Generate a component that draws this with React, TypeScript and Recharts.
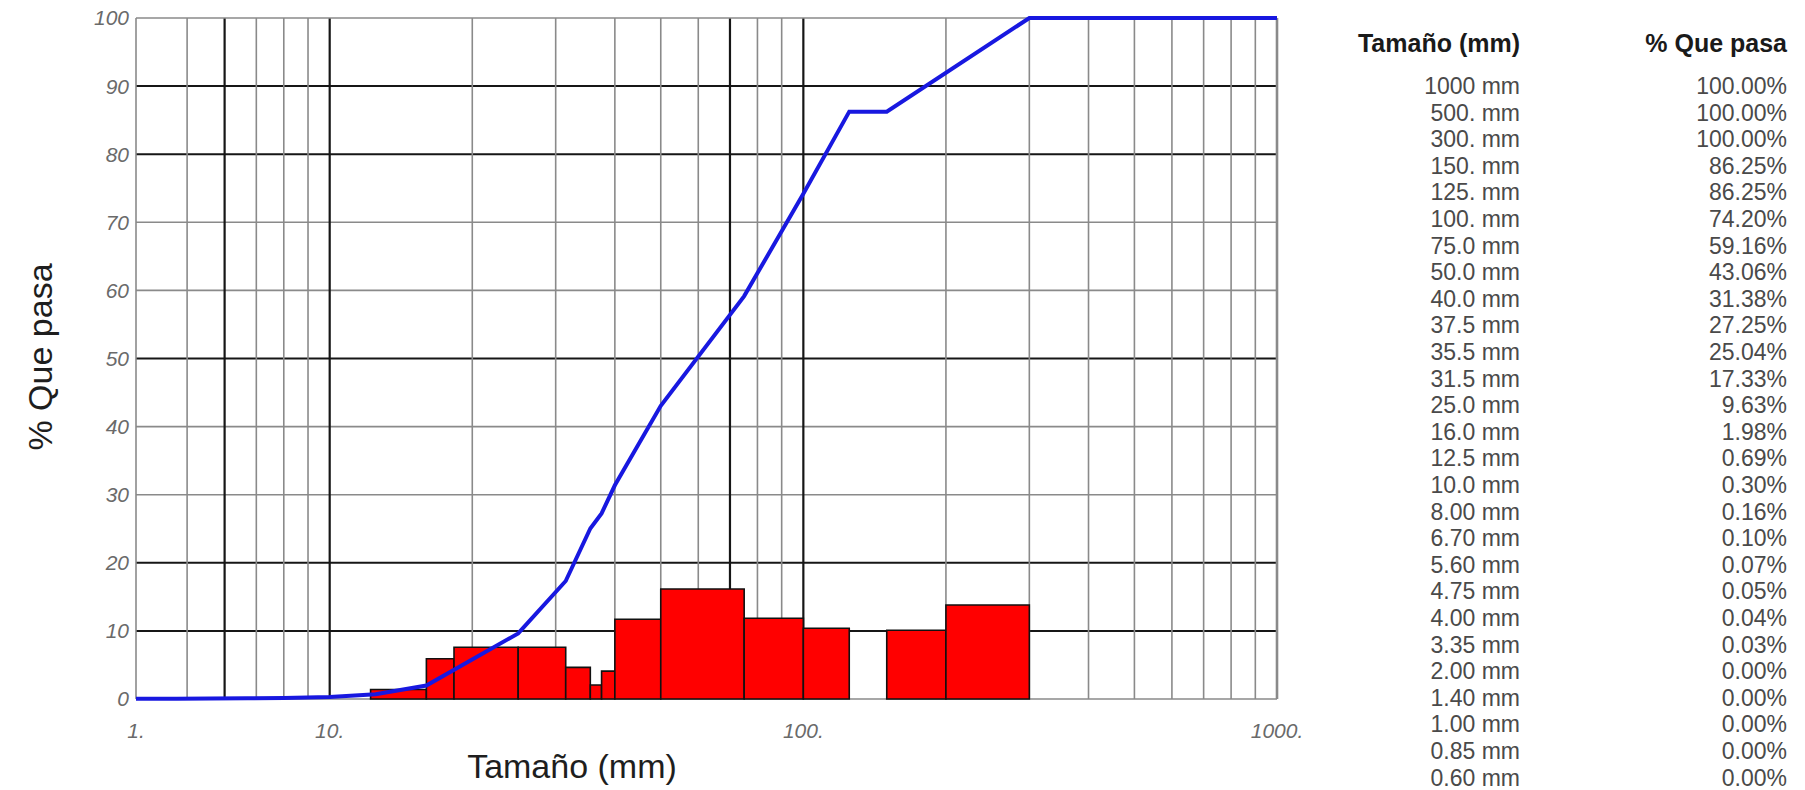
import React from "react";
import {
  ComposedChart,
  Line,
  XAxis,
  YAxis,
  ReferenceLine,
  ReferenceArea,
} from "recharts";

// ---- data ----
const SIZES = [1000, 500, 300, 150, 125, 100, 75, 50, 40, 37.5, 35.5, 31.5, 25, 16, 12.5, 10, 8, 6.7, 5.6, 4.75, 4, 3.35, 2, 1.4, 1, 0.85, 0.6];
const SIZE_LABELS = [
  "1000 mm", "500. mm", "300. mm", "150. mm", "125. mm", "100. mm", "75.0 mm", "50.0 mm",
  "40.0 mm", "37.5 mm", "35.5 mm", "31.5 mm", "25.0 mm", "16.0 mm", "12.5 mm", "10.0 mm",
  "8.00 mm", "6.70 mm", "5.60 mm", "4.75 mm", "4.00 mm", "3.35 mm", "2.00 mm", "1.40 mm",
  "1.00 mm", "0.85 mm", "0.60 mm",
];
const PASSING = [100, 100, 100, 86.25, 86.25, 74.2, 59.16, 43.06, 31.38, 27.25, 25.04, 17.33, 9.63, 1.98, 0.69, 0.3, 0.16, 0.1, 0.07, 0.05, 0.04, 0.03, 0, 0, 0, 0, 0];

// histogram bins (retained)
const BIN_FROM = [12.2, 16, 18.3, 25, 31.5, 35.5, 37.5, 40, 50, 75, 100, 150, 200];
const BIN_TO = [16, 18.3, 25, 31.5, 35.5, 37.5, 40, 50, 75, 100, 125, 200, 300];
const BIN_HEIGHT = [1.4, 5.9, 7.6, 7.6, 4.65, 2.05, 4.1, 11.7, 16.15, 11.85, 10.4, 10.1, 13.8];

// axes
const X_MIN = 3.9;
const X_MAX = 1000;
const X_TICKS = [X_MIN, 10, 100, 1000];
const X_TICK_LABELS = ["1.", "10.", "100.", "1000."];
const Y_TICKS = [0, 10, 20, 30, 40, 50, 60, 70, 80, 90, 100];
const GRID_X = [5, 6, 7, 8, 9, 10, 20, 30, 40, 50, 60, 70, 80, 90, 100, 200, 300, 400, 500, 600, 700, 800, 900];
const MAJOR_X = [6, 10, 70, 100];
const GRID_Y = [10, 20, 30, 40, 50, 60, 70, 80, 90];
const MAJOR_Y = [10, 20, 50, 80, 90];

const TABLE_HEAD_SIZE = "Tamaño (mm)";
const TABLE_HEAD_PCT = "% Que pasa";

const lineData = SIZES.map((s, i) => ({ size: s, pct: PASSING[i] })).reverse();

const FONT = "'Liberation Sans', Arial, sans-serif";
const LIGHT = "#8a8a8a";
const DARK = "#161616";

export default function App() {
  const gridProps: any = { zIndex: -100 };
  const areaProps: any = { zIndex: 100 };
  const lineProps: any = { zIndex: 400 };
  return (
    <div style={{ position: "absolute", left: 0, top: 0, width: 1805, height: 790, background: "#fff" }}>
      <ComposedChart
        width={1805}
        height={790}
        data={lineData}
        margin={{ top: 18, right: 528, bottom: 0, left: 0 }}
        style={{ fontFamily: FONT }}
      >
        <XAxis
          dataKey="size"
          type="number"
          scale="log"
          domain={[X_MIN, X_MAX]}
          allowDataOverflow
          ticks={X_TICKS}
          interval={0}
          tickFormatter={(v: number, i: number) => X_TICK_LABELS[i]}
          axisLine={false}
          tickLine={false}
          tickSize={0}
          tickMargin={24}
          height={91}
          tick={{ fill: "#6a6a6a", fontSize: 21, fontStyle: "italic", fontFamily: FONT }}
          label={{
            content: () => (
              <text x={572} y={766} textAnchor="middle" dominantBaseline="central" fontSize={34} fill="#1e1e1e" fontFamily={FONT}>
                Tamaño (mm)
              </text>
            ),
          }}
        />
        <YAxis
          type="number"
          domain={[0, 100]}
          ticks={Y_TICKS}
          interval={0}
          axisLine={false}
          tickLine={false}
          tickSize={0}
          tickMargin={7}
          width={136}
          tick={{ fill: "#6a6a6a", fontSize: 21, fontStyle: "italic", fontFamily: FONT }}
          label={{
            content: () => (
              <text x={40} y={357} transform="rotate(-90 40 357)" textAnchor="middle" dominantBaseline="central" fontSize={34} fill="#1e1e1e" fontFamily={FONT}>
                % Que pasa
              </text>
            ),
          }}
        />
        {GRID_Y.map((v) => (
          <ReferenceLine key={"gy" + v} {...gridProps} y={v} stroke={MAJOR_Y.includes(v) ? DARK : LIGHT} strokeWidth={MAJOR_Y.includes(v) ? 2 : 1.6} />
        ))}
        {GRID_X.map((v) => (
          <ReferenceLine key={"gx" + v} {...gridProps} x={v} stroke={MAJOR_X.includes(v) ? DARK : LIGHT} strokeWidth={MAJOR_X.includes(v) ? 2.2 : 1.6} />
        ))}
        <ReferenceLine {...gridProps} x={X_MIN} stroke={LIGHT} strokeWidth={1.6} />
        <ReferenceLine {...gridProps} x={X_MAX} stroke={LIGHT} strokeWidth={2.6} />
        <ReferenceLine {...gridProps} y={0} stroke={LIGHT} strokeWidth={1.6} />
        <ReferenceLine {...gridProps} y={100} stroke={LIGHT} strokeWidth={1.6} />
        {BIN_FROM.map((lo, i) => (
          <ReferenceArea
            key={"bin" + i}
            {...areaProps}
            x1={lo}
            x2={BIN_TO[i]}
            y1={0}
            y2={BIN_HEIGHT[i]}
            fill="#ff0000"
            fillOpacity={1}
            stroke="#111"
            strokeWidth={1.6}
          />
        ))}
        <Line
          {...lineProps}
          type="linear"
          dataKey="pct"
          stroke="#1818e0"
          strokeWidth={4}
          dot={false}
          activeDot={false}
          isAnimationActive={false}
        />
      </ComposedChart>
      <svg width={1805} height={790} style={{ position: "absolute", left: 0, top: 0, pointerEvents: "none" }}>
        <text x={1520} y={43} textAnchor="end" dominantBaseline="central" fontSize={25} fontWeight="bold" fill="#1a1a1a" fontFamily={FONT}>
          {TABLE_HEAD_SIZE}
        </text>
        <text x={1787} y={43} textAnchor="end" dominantBaseline="central" fontSize={25} fontWeight="bold" fill="#1a1a1a" fontFamily={FONT}>
          {TABLE_HEAD_PCT}
        </text>
        {SIZE_LABELS.map((lab, i) => (
          <text key={"s" + i} x={1520} y={86 + i * 26.6} textAnchor="end" dominantBaseline="central" fontSize={23} fill="#4a4a4a" fontFamily={FONT}>
            {lab}
          </text>
        ))}
        {PASSING.map((p, i) => (
          <text key={"p" + i} x={1787} y={86 + i * 26.6} textAnchor="end" dominantBaseline="central" fontSize={23} fill="#4a4a4a" fontFamily={FONT}>
            {p.toFixed(2) + "%"}
          </text>
        ))}
      </svg>
    </div>
  );
}
